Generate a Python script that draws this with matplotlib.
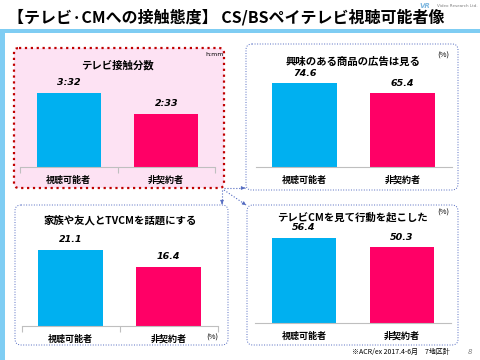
import matplotlib
matplotlib.use('Agg')
import matplotlib.pyplot as plt
from matplotlib.patches import FancyBboxPatch, Rectangle

plt.rcParams['font.family'] = ['Noto Sans CJK JP', 'DejaVu Sans']

# data
groups = ['視聴可能者', '非契約者']
tv_minutes = [212, 153]          # 3:32, 2:33
ad_interest = [74.6, 65.4]
talk_tvcm = [21.1, 16.4]
cm_action = [56.4, 50.3]

title = '【テレビ·CMへの接触態度】 CS/BSペイテレビ視聴可能者像'
panel_titles = ['テレビ接触分数', '興味のある商品の広告は見る',
                '家族や友人とTVCMを話題にする', 'テレビCMを見て行動を起こした']
note = '※ACR/ex 2017.4-6月　7地区計'

c_blue = '#00B0F0'
c_pink = '#FF0066'
c_line = '#7FCDF3'
c_box = '#5068C0'
c_red = '#C00000'

W, H = 480, 360
fig = plt.figure(figsize=(4.8, 3.6), dpi=100)
bg = fig.add_axes([0, 0, 1, 1])
bg.set_xlim(0, W)
bg.set_ylim(H, 0)
bg.axis('off')

# header
bg.add_patch(Rectangle((0, 29), W, 4, color=c_line, lw=0))
bg.add_patch(Rectangle((0, 29), 5, H - 29, color=c_line, lw=0))
bg.text(8, 17, title, fontsize=11.5, fontweight='bold', va='center', ha='left')
bg.text(425, 6, 'VR', fontsize=5, color='#7FB8E0', fontweight='bold',
        style='italic', va='center', ha='center', family='DejaVu Sans')
bg.text(478, 6, 'Video Research Ltd.', fontsize=3, color='#808080',
        va='center', ha='right', family='DejaVu Sans')

# panel frames
bg.add_patch(FancyBboxPatch((14, 48), 210, 140, boxstyle='round,pad=0,rounding_size=5',
                            fc='#FDE2F3', ec=c_red, ls=':', lw=1.6))
for (x0, y0, w, h) in [(246, 44, 212, 146), (15, 205, 213, 140), (247, 205, 211, 140)]:
    bg.add_patch(FancyBboxPatch((x0, y0), w, h, boxstyle='round,pad=0,rounding_size=6',
                                fc='none', ec=c_box, ls=':', lw=0.7))

# connector arrows
for (xs, ys, xe, ye) in [(224, 188, 245, 188), (222, 190, 222, 204), (224, 190, 246, 205)]:
    bg.plot([xs, xe], [ys, ye], ls=':', color=c_box, lw=0.8)
    dx, dy = (xe - xs), (ye - ys)
    n = (dx ** 2 + dy ** 2) ** 0.5
    bg.annotate('', xy=(xe, ye), xytext=(xe - 3 * dx / n, ye - 3 * dy / n),
                arrowprops=dict(arrowstyle='-|>', color=c_box, lw=0.6, mutation_scale=5))


def px_axes(x0, x1, ybot, h):
    return fig.add_axes([x0 / W, 1 - ybot / H, (x1 - x0) / W, h / H])


def bar_panel(ax, vals, labels, ymax, seps=False):
    ax.patch.set_alpha(0)
    ax.bar([0, 1], vals, width=0.66, color=[c_blue, c_pink], zorder=2)
    ax.set_xlim(-0.5, 1.5)
    ax.set_ylim(0, ymax)
    for s in ['top', 'left', 'right']:
        ax.spines[s].set_visible(False)
    ax.spines['bottom'].set_color('#BFBFBF')
    ax.spines['bottom'].set_linewidth(0.8)
    ax.set_yticks([])
    ax.set_xticks([0, 1])
    ax.set_xticklabels(groups, fontsize=6.5, fontweight='bold')
    ax.tick_params(axis='x', which='major', length=0, pad=6)
    if seps:
        ax.set_xticks([-0.5, 0.5, 1.5], minor=True)
        ax.tick_params(axis='x', which='minor', length=4, color='#BFBFBF', width=0.8)
    for i, v in enumerate(vals):
        ax.annotate(labels[i], (i, v), xytext=(0, 4), textcoords='offset points',
                    ha='center', va='bottom', fontsize=6.8, fontweight='bold',
                    style='italic', family='DejaVu Sans')


ax1 = px_axes(20, 215, 167, 90)
bar_panel(ax1, tv_minutes, ['%d:%02d' % (m // 60, m % 60) for m in tv_minutes], 258, seps=True)
ax2 = px_axes(255.5, 451.5, 167, 90)
bar_panel(ax2, ad_interest, ['%.1f' % v for v in ad_interest], 80)
ax3 = px_axes(21.5, 217.5, 326, 90)
bar_panel(ax3, talk_tvcm, ['%.1f' % v for v in talk_tvcm], 25, seps=True)
ax4 = px_axes(255, 451, 323, 90)
bar_panel(ax4, cm_action, ['%.1f' % v for v in cm_action], 59.7)

# panel titles and units
pt = dict(fontsize=7.5, fontweight='bold', ha='center', va='center')
bg.text(117, 65, panel_titles[0], **pt)
bg.text(353, 62, panel_titles[1], **pt)
bg.text(120, 220, panel_titles[2], **pt)
bg.text(352, 217, panel_titles[3], **pt)
bg.text(215, 55, 'h:mm', fontsize=4.5, ha='center', va='center', family='DejaVu Sans')
bg.text(443, 56, '(%)', fontsize=5.5, ha='center', va='center')
bg.text(212, 338, '(%)', fontsize=5.5, ha='center', va='center')
bg.text(443, 213, '(%)', fontsize=5.5, ha='center', va='center')

bg.text(450, 352, note, fontsize=5, ha='right', va='center')
bg.text(470, 352, '8', fontsize=5, color='#808080', style='italic', ha='center',
        va='center', family='DejaVu Sans')

fig.savefig('out.png', dpi=100)
